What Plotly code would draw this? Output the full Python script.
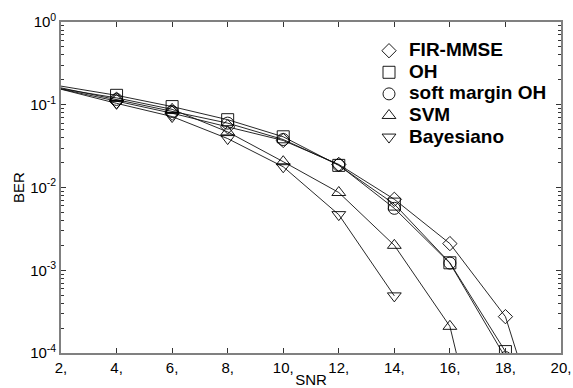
import plotly.graph_objects as go

# Data
snr_line = [2, 4, 6, 8, 10, 12, 14, 16, 18, 20]
snr_marks = [4, 6, 8, 10, 12, 14, 16, 18]

fir_mmse = [0.155, 0.110, 0.079, 0.054, 0.037, 0.0190, 0.0072, 0.0021, 0.000275, 0.0000020]
oh = [0.168, 0.130, 0.095, 0.066, 0.041, 0.0185, 0.0063, 0.00123, 0.000104, 0.0000010]
soft_oh = [0.160, 0.116, 0.083, 0.060, 0.038, 0.0187, 0.0056, 0.00122, 0.000088, 0.0000008]
svm = [0.156, 0.121, 0.088, 0.047, 0.0205, 0.0087, 0.0020, 0.00021, 0.00000035, None]
bayes = [0.154, 0.104, 0.072, 0.039, 0.0178, 0.0047, 0.00049, None, None, None]

names = ["FIR-MMSE", "OH", "soft margin OH", "SVM", "Bayesiano"]
series = [fir_mmse, oh, soft_oh, svm, bayes]
symbols = ["diamond-open", "square-open", "circle-open", "triangle-up-open", "triangle-down-open"]
sizes = [11, 12, 12, 12, 12]

x_tickvals = [2, 4, 6, 8, 10, 12, 14, 16, 18, 20]
x_ticktext = ["2,", "4,", "6,", "8,", "10,", "12,", "14,", "16,", "18,", "20,"]
y_tickvals = [1e-4, 1e-3, 1e-2, 1e-1, 1]
y_ticktext = ["10<sup>-4</sup>", "10<sup>-3</sup>", "10<sup>-2</sup>", "10<sup>-1</sup>", "10<sup>0</sup>"]
y_minor = [m * 10 ** e for e in range(-4, 0) for m in range(2, 10)]

FONT = "Liberation Sans, Arial"

fig = go.Figure()
for name, vals in zip(names, series):
    fig.add_trace(go.Scatter(x=snr_line, y=vals, mode="lines",
                             line=dict(color="#111111", width=0.9),
                             showlegend=False, hoverinfo="skip"))
for name, vals, sym, sz in zip(names, series, symbols, sizes):
    mv = [v for x, v in zip(snr_line, vals) if x in snr_marks]
    mx = [x for x, v in zip(snr_line, vals) if x in snr_marks]
    fig.add_trace(go.Scatter(x=mx, y=mv, mode="markers",
                             name='<span style="font-size:19px">' + name + '</span>',
                             marker=dict(symbol=sym, size=sz, color="black",
                                         line=dict(color="black", width=0.9))))

axis_common = dict(showline=True, linecolor="#808080", linewidth=1.6, mirror="ticks",
                   ticks="inside", tickcolor="#333333", ticklen=5, showgrid=False,
                   zeroline=False, automargin=False,
                   tickfont=dict(family=FONT, size=15, color="black"))

fig.update_xaxes(range=[2, 20], tickmode="array", tickvals=x_tickvals, ticktext=x_ticktext,
                 title=dict(text="SNR", font=dict(family=FONT, size=15, color="black"), standoff=3),
                 **axis_common)
fig.update_yaxes(type="log", range=[-4, 0], tickmode="array", tickvals=y_tickvals, ticktext=y_ticktext,
                 minor=dict(tickmode="array", tickvals=y_minor, ticks="inside", ticklen=3, tickcolor="#333333"),
                 title=dict(text="BER", font=dict(family=FONT, size=15, color="black"), standoff=2),
                 **axis_common)

fig.update_layout(
    width=573, height=388,
    margin=dict(l=61, r=12, t=22, b=35),
    plot_bgcolor="white", paper_bgcolor="white",
    legend=dict(x=0.616, y=0.961, xanchor="left", yanchor="top",
                bgcolor="rgba(0,0,0,0)", borderwidth=0,
                font=dict(family=FONT, size=14.3, color="black", weight="bold"),
                tracegroupgap=0, itemwidth=30),
    font=dict(family=FONT),
)

fig.write_html("out.html", config={"displayModeBar": False},
               post_script="document.body.style.margin='0';document.body.style.padding='0';")
